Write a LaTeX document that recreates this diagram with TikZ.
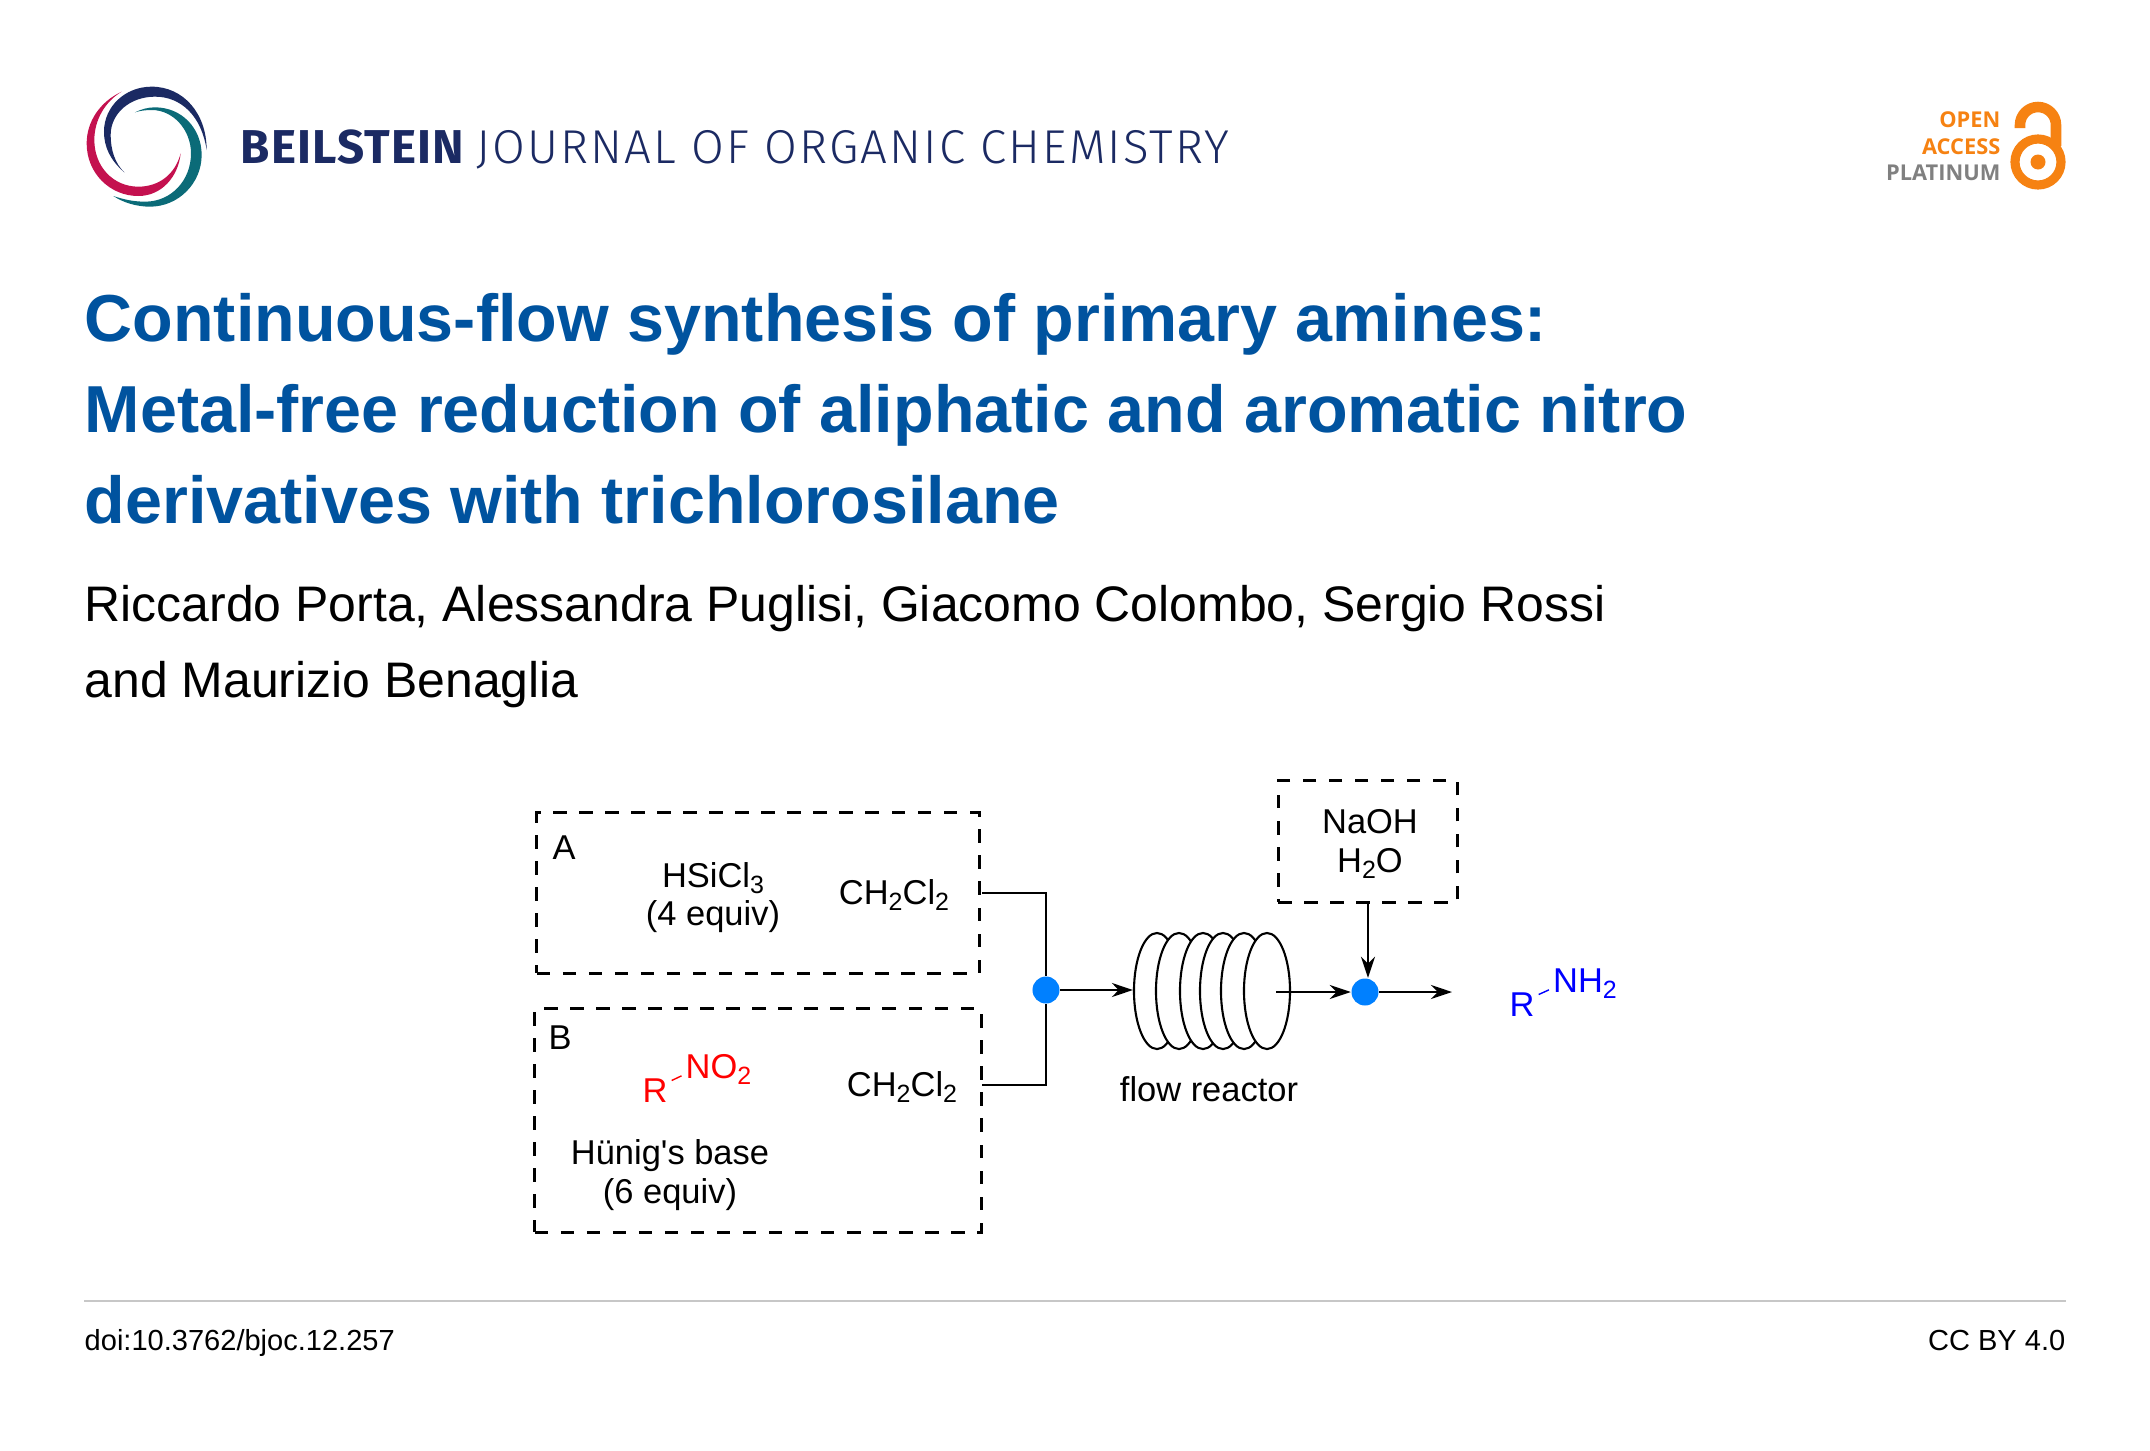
\documentclass[tikz,border=0pt]{standalone}
\usepackage{fontspec}
\usepackage{tikz}
\usetikzlibrary{arrows.meta,shapes.geometric}
\setmainfont{Liberation Sans}
\newfontfamily\straightfont{Liberation Sans}
\newfontfamily\headfont[LetterSpace=2.5]{Fira Sans}
\newfontfamily\headlight[LetterSpace=4.4]{Fira Sans Light}
\newfontfamily\oafont{Open Sans}
\newcommand{\lowidx}[1]{\raisebox{-1.9pt}{\fontsize{7.1}{8}\selectfont #1}}
\definecolor{bjocblue}{HTML}{00539F}
\definecolor{bjocnavy}{HTML}{1B2A63}
\definecolor{bjocteal}{HTML}{0B6B78}
\definecolor{bjocred}{HTML}{C4114F}
\definecolor{oaorange}{HTML}{F68212}
\definecolor{oagray}{HTML}{808080}
\definecolor{dotblue}{HTML}{0080FF}
\tikzset{
  head/.style={anchor=base west, inner sep=0pt, text=bjocnavy},
  titleline/.style={anchor=base west, inner sep=0pt, text=bjocblue, font=\fontsize{18.9}{22}\selectfont\bfseries},
  authorline/.style={anchor=base west, inner sep=0pt, font=\fontsize{14.2}{16}\selectfont},
  foot/.style={anchor=base, inner sep=0pt, font=\fontsize{8.26}{10}\selectfont},
  oatext/.style={anchor=base east, inner sep=0pt, font=\oafont\fontsize{6.2}{7}\selectfont\bfseries},
  reagbox/.style={draw, dash pattern=on 3.8pt off 3.6pt, line width=0.85pt, outer sep=0pt, inner sep=0pt},
  reag/.style={anchor=base, inner sep=0pt, align=center, font=\fontsize{9.8}{11.1}\selectfont},
  flowdot/.style={circle, fill=dotblue, inner sep=0pt, minimum size=0.27cm},
  coil/.style={draw, fill=white, ellipse, line width=0.6pt, inner sep=0pt, minimum width=0.46cm, minimum height=1.16cm},
  flow/.style={line width=0.65pt, -{Stealth[length=6pt,width=4pt]}},
  pipe/.style={line width=0.65pt}
}
\begin{document}
\begin{tikzpicture}[x=0.01cm, y=-0.01cm]
\useasboundingbox (0,0) rectangle (2150,1451);
\fill[white] (0,0) rectangle (2150,1451);

% logo
\begin{scope}[shift={(60,60)}, scale=1/3]
\fill[bjocnavy] (193,337) .. controls (150,300) and (132,260) .. (132,215) .. controls (132,140) and (195,80) .. (275,80) .. controls (370,80) and (440,160) .. (440,270) .. controls (425,170) and (365,110) .. (285,110) .. controls (210,110) and (152,160) .. (152,225) .. controls (152,270) and (165,310) .. (193,337) -- cycle;
\fill[bjocteal] (225,157) .. controls (245,147) and (265,142) .. (285,142) .. controls (365,142) and (425,205) .. (425,285) .. controls (425,370) and (355,440) .. (270,440) .. controls (230,440) and (190,428) .. (160,408) .. controls (195,420) and (225,425) .. (255,425) .. controls (335,425) and (393,360) .. (393,280) .. controls (393,210) and (340,150) .. (275,150) .. controls (258,150) and (240,152) .. (225,157) -- cycle;
\fill[bjocred] (185,95) .. controls (120,125) and (80,185) .. (80,250) .. controls (80,340) and (150,408) .. (235,408) .. controls (305,408) and (355,350) .. (362,280) .. controls (345,345) and (295,380) .. (235,380) .. controls (160,380) and (103,320) .. (103,240) .. controls (103,180) and (135,125) .. (185,95) -- cycle;
\end{scope}

\node[head, font=\headfont\fontsize{13.5}{16}\selectfont\bfseries] (brand) at (240,163) {BEILSTEIN};
\node[head, font=\headlight\fontsize{13.5}{16}\selectfont] (journal) at (476,163) {JOURNAL OF ORGANIC CHEMISTRY};

% open access mark
\node[oatext, text=oaorange] (oa1) at (2001,127) {OPEN};
\node[oatext, text=oaorange] (oa2) at (2001,154) {ACCESS};
\node[oatext, text=oagray] (oa3) at (2001,180) {PLATINUM};
\draw[oaorange, line width=3pt] (2020,128) -- (2020,125) arc (180:360:18) -- (2056,146);
\draw[oaorange, line width=2.6pt] (2038,162) circle (23);
\fill[oaorange] (2038,162) circle (7.5);

\node[titleline] (t1) at (84,341) {Continuous-flow synthesis of primary amines:};
\node[titleline] (t2) at (84,432) {Metal-free reduction of aliphatic and aromatic nitro};
\node[titleline] (t3) at (84,523) {derivatives with trichlorosilane};
\node[authorline] (a1) at (84,621) {Riccardo Porta, Alessandra Puglisi, Giacomo Colombo, Sergio Rossi};
\node[authorline] (a2) at (84,697) {and Maurizio Benaglia};

% scheme
\node[reagbox, minimum width=4.42cm, minimum height=1.6cm] (boxA) at (758,893) {};
\node[reagbox, minimum width=4.46cm, minimum height=2.23cm] (boxB) at (758,1120.5) {};
\node[reagbox, minimum width=1.795cm, minimum height=1.21cm] (boxC) at (1368,841.5) {};

\node[reag] (labA) at (564,859) {A};
\node[reag] (labB) at (560,1049) {B};
\node[reag] (hsi) at (713,887) {HSiCl\lowidx{3}};
\node[reag] (hsieq) at (713,925) {(4 equiv)};
\node[reag] (dcmA) at (894,904) {CH\lowidx{2}Cl\lowidx{2}};
\node[reag] (dcmB) at (902,1096) {CH\lowidx{2}Cl\lowidx{2}};
\node[reag] (base) at (670,1164) {Hünig{\straightfont '}s base};
\node[reag] (baseeq) at (670,1203) {(6 equiv)};
\node[reag] (naoh) at (1370,833) {NaOH};
\node[reag] (water) at (1370,872) {H\lowidx{2}O};
\node[reag] (reactorlab) at (1209,1101) {flow reactor};

\node[reag, text=red, inner sep=1pt] (r1) at (655,1102) {R};
\node[reag, text=red, inner sep=1pt] (no2) at (718.5,1078) {NO\lowidx{2}};
\draw[red, line width=0.4pt] (r1.30) -- (no2.190);
\node[reag, text=blue, inner sep=1pt] (r2) at (1522,1016) {R};
\node[reag, text=blue, inner sep=1pt] (nh2) at (1585,992) {NH\lowidx{2}};
\draw[blue, line width=0.4pt] (r2.30) -- (nh2.190);

\node[flowdot] (dot1) at (1046,990) {};
\node[flowdot] (dot2) at (1365,992) {};

\node[coil] (c1) at (1157,991) {};
\node[coil] (c2) at (1179,991) {};
\node[coil] (c3) at (1203,991) {};
\node[coil] (c4) at (1223,991) {};
\node[coil] (c5) at (1244,991) {};
\node[coil] (c6) at (1267,991) {};

\coordinate (outA) at (982,893);
\coordinate (outB) at (982,1085);
\coordinate (inner) at (1276,992);
\coordinate (product) at (1452,992);

\draw[pipe] (outA) -| (dot1);
\draw[pipe] (outB) -| (dot1);
\draw[flow] (dot1) -- (c1.west |- dot1);
\draw[flow] (inner) -- (dot2);
\draw[flow] (dot2) -- (product);
\draw[flow] (boxC.south) -- (boxC.south |- dot2.north);

% footer
\draw[black!22, line width=0.6pt] (84,1301) coordinate (ruleL) -- (2066,1301) coordinate (ruleR);
\node[foot, anchor=base west] (doi) at (84,1350) {doi:10.3762/bjoc.12.257};
\node[foot, anchor=base east] (lic) at (2066,1350) {CC BY 4.0};
\end{tikzpicture}
\end{document}
